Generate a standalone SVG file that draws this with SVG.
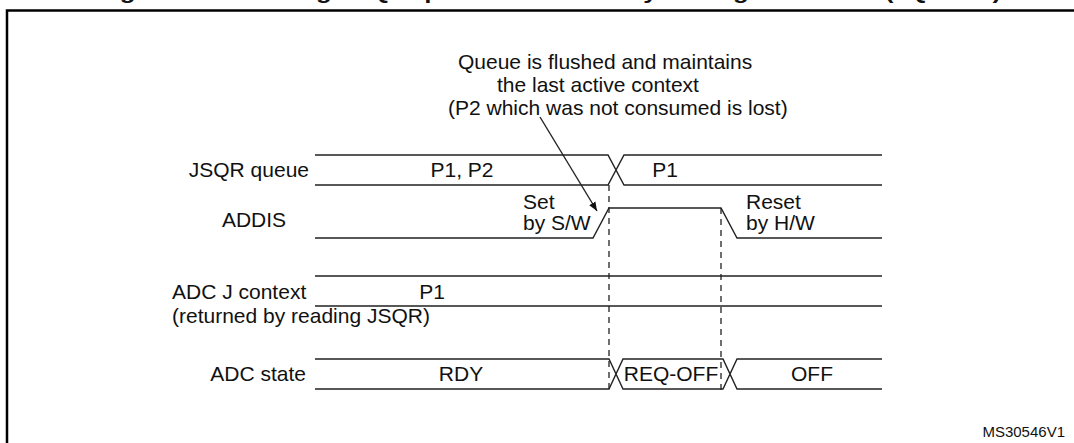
<svg xmlns="http://www.w3.org/2000/svg" width="1074" height="443" viewBox="0 0 1074 443">
<defs>
<style>
text{font-family:"Liberation Sans",Arial,sans-serif;font-size:21px;fill:#111}
.sig{fill:none;stroke:#222;stroke-width:1.4}
.dash{fill:none;stroke:#222;stroke-width:1.3;stroke-dasharray:6,5}
.mid{text-anchor:middle}
.end{text-anchor:end}
</style>
<marker id="ah" viewBox="0 0 10 10" refX="10" refY="5" markerWidth="9" markerHeight="9" orient="auto" markerUnits="userSpaceOnUse">
<path d="M0,1 L10,5 L0,9 z" fill="#111"/>
</marker>
</defs>
<rect width="1074" height="443" fill="#fff"/>
<text x="549" y="-1" class="mid" style="font-weight:bold;font-size:21px" textLength="904" lengthAdjust="spacingAndGlyphs">Figure 98. Flushing JSQR queue of context by setting ADDIS = 1 (JQM = 0)</text>
<rect x="7" y="10.5" width="1090" height="460" fill="none" stroke="#000" stroke-width="2.5"/>

<g id="jsqr">
<text x="309" y="177" class="end">JSQR queue</text>
<path class="sig" d="M315,155 H608 L624,185 H882 M315,185 H608 L624,155 H882"/>
<text x="462" y="177" class="mid">P1, P2</text>
<text x="665" y="177" class="mid">P1</text>
</g>

<g id="addis">
<text x="254" y="227" class="mid">ADDIS</text>
<path class="sig" d="M315,238 H593 L609,208 H721 L737,238 H882"/>
<text x="523" y="209">Set</text>
<text x="523" y="230">by S/W</text>
<text x="746" y="209">Reset</text>
<text x="746" y="230">by H/W</text>
</g>

<g id="jcontext">
<text x="172" y="299">ADC J context</text>
<text x="172" y="323">(returned by reading JSQR)</text>
<path class="sig" d="M315,276 H882 M315,306 H882"/>
<text x="432" y="299" class="mid">P1</text>
</g>

<g id="adcstate">
<text x="306" y="381" class="end">ADC state</text>
<path class="sig" d="M315,359 H609 L623,389 H723 L737,359 H882 M315,389 H609 L623,359 H723 L737,389 H882"/>
<text x="461" y="381" class="mid">RDY</text>
<text x="671" y="381" class="mid">REQ-OFF</text>
<text x="812" y="381" class="mid">OFF</text>
</g>

<g id="note">
<text x="458" y="69">Queue is flushed and maintains</text>
<text x="497" y="92">the last active context</text>
<text x="448" y="115">(P2 which was not consumed is lost)</text>
</g>

<g id="connectors">
<line class="dash" x1="609" y1="185" x2="609" y2="392"/>
<line class="dash" x1="721" y1="208" x2="721" y2="392"/>
<line class="sig" x1="540" y1="117" x2="597" y2="211" marker-end="url(#ah)"/>
</g>

<text x="1065" y="437" class="end" style="font-size:15px">MS30546V1</text>
</svg>
